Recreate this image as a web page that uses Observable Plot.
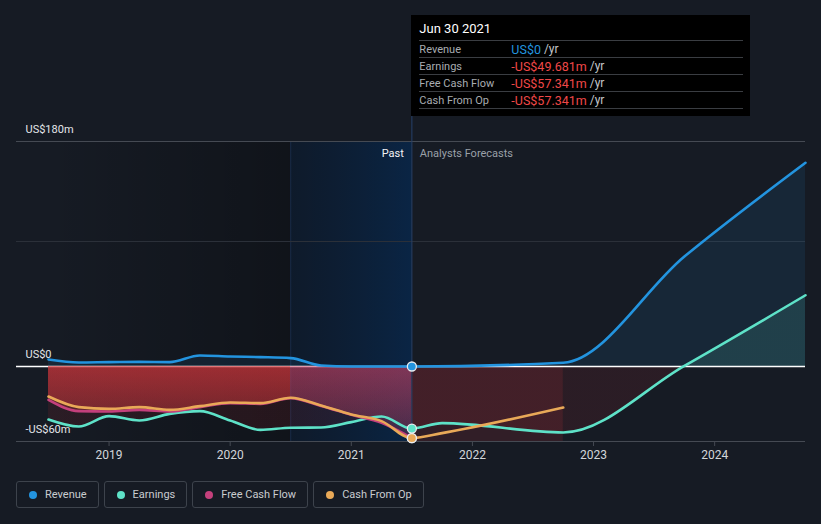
<!DOCTYPE html>
<html>
<head>
<meta charset="utf-8">
<script src="https://cdn.jsdelivr.net/npm/d3@7"></script>
<script src="https://cdn.jsdelivr.net/npm/@observablehq/plot@0.6"></script>
<style>
  html, body { margin: 0; padding: 0; background: #161b24; }
  body { width: 821px; height: 524px; overflow: hidden; font-family: Roboto, "Noto Sans", sans-serif; }
  #wrap { position: relative; width: 821px; height: 470px; }
  #tip { position: absolute; top: 15px; width: 339px; height: 101px; background: #000; box-sizing: border-box; padding: 0 7px 0 8px; color: #fff; }
  #tip .title { height: 25px; display: flex; align-items: center; font-size: 13px; color: #fff; padding-top: 1px; box-sizing: border-box; }
  #tip .row { height: 17px; border-top: 1px solid #3a3d42; box-sizing: border-box; display: flex; align-items: center; font-size: 11px; }
  #tip .end { border-top: 1px solid #3a3d42; }
  #tip .lab { width: 92px; color: #a8acb1; }
  #tip .val { font-size: 12.5px; }
  #tip .unit { color: #c4c7cb; font-size: 12px; }
  #legend { display: flex; padding: 11px 0 0 16px; }
  .item { height: 27px; box-sizing: border-box; border: 1px solid #3d434c; border-radius: 3px; display: flex; align-items: center; padding: 0 11px 0 12px; margin-right: 5px; font-size: 11px; color: #c9ccd0; }
  .dot { width: 8px; height: 8px; border-radius: 50%; margin-right: 8px; }
</style>
</head>
<body>
<div id="wrap"></div>
<div id="legend"></div>
<script>
// ---------- data ----------
const currentDate = 2021.5;
const currentLabel = "Jun 30 2021";
const seriesNames = ["Revenue", "Earnings", "Free Cash Flow", "Cash From Op"];
const seriesColors = ["#2394df", "#5ee2c8", "#c4407c", "#e9a958"];

const pastDates = [2018.5, 2018.75, 2019, 2019.25, 2019.5, 2019.75, 2020, 2020.25, 2020.5, 2020.75, 2021, 2021.25, 2021.5];
const revenuePast  = [5.6, 3.2, 3.5, 3.7, 3.5, 8.8, 8.0, 7.5, 6.7, 0.8, 0, 0, 0];
const earningsPast = [-42.4, -48, -39.7, -43.2, -37.9, -35.7, -43.2, -50.7, -49, -48.8, -44.5, -40, -49.681];
const fcfPast      = [-26.7, -35.7, -36, -34.7, -36, -32.5, -29.3, -29.9, -25.3, -31.5, -38.6, -45, -57.341];
const cfoPast      = [-24, -32.5, -33.9, -32.5, -34.7, -31.7, -28.8, -29.3, -25, -31.2, -38.4, -43.7, -57.341];

const revenueFcDates  = [2022.75, 2023.75, 2024.75];
const revenueFc       = [3, 88, 163];
const earningsFcDates = [2021.75, 2022.75, 2023.75, 2024.75];
const earningsFc      = [-45.3, -52.8, 0.5, 57];
const cfoFcDates      = [2021.75, 2022.75];
const cfoFc           = [-53.3, -32.8];

const xDomain = [2018.5, 2024.75];
const yearTicks = [2019, 2020, 2021, 2022, 2023, 2024];
const yTicks = [-60, 0, 180];
const yTickLabels = ["-US$60m", "US$0", "US$180m"];
const yGrid = [100, 180];

// ---------- build rows ----------
const rows = (dates, vals) => dates.map((t, i) => ({t, v: vals[i]}));
const revPastRows = rows(pastDates, revenuePast);
const earnPastRows = rows(pastDates, earningsPast);
const fcfPastRows = rows(pastDates, fcfPast);
const cfoPastRows = rows(pastDates, cfoPast);
const revenueAll = revPastRows.concat(rows(revenueFcDates, revenueFc));
const earningsAll = earnPastRows.concat(rows(earningsFcDates, earningsFc));
const cfoFcRows = [cfoPastRows[cfoPastRows.length - 1]].concat(rows(cfoFcDates, cfoFc));
const cfoAll = cfoPastRows.concat(rows(cfoFcDates, cfoFc));

const yMin = d3.min(yTicks), yMax = d3.max(yTicks);
const bandStart = currentDate - 1;
const early = arr => arr.filter(d => d.t <= bandStart);
const late = arr => arr.filter(d => d.t >= bandStart);
const curve = "monotone-x";
const lw = 2.6;

const at = (arr) => arr.find(d => d.t === currentDate).v;
const currentVals = [at(revPastRows), at(earnPastRows), at(fcfPastRows), at(cfoPastRows)];

const plot = Plot.plot({
  width: 821,
  height: 470,
  marginLeft: 16,
  marginRight: 16,
  marginTop: 15,
  marginBottom: 29,
  style: {background: "transparent", fontFamily: "Roboto, 'Noto Sans', sans-serif", overflow: "visible"},
  x: {type: "linear", domain: xDomain, range: [48, 805], axis: null},
  y: {type: "linear", domain: [yMin, yMax], range: [441, 141], axis: null},
  marks: [
    // darker past region and last-year band
    Plot.rect([0], {x1: xDomain[0], x2: bandStart, y1: yMin, y2: yMax, fill: "url(#darkGrad)"}),
    Plot.rect([0], {x1: bandStart, x2: currentDate, y1: yMin, y2: yMax, fill: "url(#bandGrad)"}),
    Plot.ruleX([bandStart], {y1: yMin, y2: yMax, stroke: "rgb(40,70,120)", strokeOpacity: 0.4, strokeWidth: 1}),
    // grid
    Plot.ruleY(yGrid, {stroke: d => d === yMax ? "#454a53" : "#2b3039", strokeWidth: 1}),
    Plot.ruleY([yMin], {stroke: "#454a53", strokeWidth: 1}),
    // forecast / all-time areas
    Plot.areaY(revenueAll, {x: "t", y1: 0, y2: "v", curve, fill: seriesColors[0], fillOpacity: 0.1}),
    Plot.areaY(earningsAll, {x: "t", y1: 0, y2: "v", curve, fill: "url(#earnGrad)"}),
    Plot.areaY(cfoFcRows, {x: "t", y1: 0, y2: yMin, fill: "rgb(210,55,60)", fillOpacity: 0.15}),
    // zero line
    Plot.ruleY([0], {stroke: "#ffffff", strokeWidth: 1.5}),
    // past cash areas (red before the last year, purple within it)
    Plot.areaY(early(fcfPastRows), {x: "t", y1: 0, y2: "v", curve, fill: "url(#redGrad)"}),
    Plot.areaY(early(cfoPastRows), {x: "t", y1: 0, y2: "v", curve, fill: "url(#redGrad)"}),
    Plot.areaY(late(fcfPastRows), {x: "t", y1: 0, y2: "v", curve, fill: "url(#purpleGrad)"}),
    Plot.areaY(late(cfoPastRows), {x: "t", y1: 0, y2: "v", curve, fill: "url(#purpleGrad)"}),
    // lines
    Plot.line(revenueAll, {x: "t", y: "v", curve, stroke: seriesColors[0], strokeWidth: lw}),
    Plot.line(earningsAll, {x: "t", y: "v", curve, stroke: seriesColors[1], strokeWidth: lw}),
    Plot.line(fcfPastRows, {x: "t", y: "v", curve, stroke: seriesColors[2], strokeWidth: lw}),
    Plot.line(cfoAll, {x: "t", y: "v", curve, stroke: seriesColors[3], strokeWidth: lw}),
    // cursor
    Plot.ruleX([currentDate], {stroke: "#26406a", strokeWidth: 1}),
    Plot.dot(currentVals.map((v, i) => ({t: currentDate, v, c: seriesColors[i]})), {
      x: "t", y: "v", r: 4.5, fill: "c", stroke: "#e8ecef", strokeWidth: 1.3
    }),
    // labels
    Plot.text(yTicks, {y: d => d, text: (d, i) => yTickLabels[i], frameAnchor: "left", textAnchor: "start", dx: 9, dy: -12, fill: "#e4e6e9", fontSize: 11}),
    Plot.text([currentDate], {x: d => d, y: yMax, text: () => "Past", textAnchor: "end", dx: -8, dy: 12, fill: "#f2f3f5", fontSize: 11}),
    Plot.text([currentDate], {x: d => d, y: yMax, text: () => "Analysts Forecasts", textAnchor: "start", dx: 8, dy: 12, fill: "#9aa0a8", fontSize: 11}),
    Plot.axisX(yearTicks, {tickSize: 5, tickPadding: 4, stroke: "#454a53", fill: "#d3d6da", fontSize: 12, tickFormat: d => String(d), label: null})
  ]
});

// gradients
const xs = plot.scale("x"), ys = plot.scale("y");
const svg = d3.select(plot);
const defs = svg.insert("defs", ":first-child");
function lin(id, x1, y1, x2, y2, stops) {
  const g = defs.append("linearGradient").attr("id", id).attr("gradientUnits", "userSpaceOnUse")
    .attr("x1", x1).attr("y1", y1).attr("x2", x2).attr("y2", y2);
  stops.forEach(([o, c, op]) => g.append("stop").attr("offset", o).attr("stop-color", c).attr("stop-opacity", op));
}
lin("darkGrad", xs.apply(xDomain[0]), 0, xs.apply(bandStart), 0, [[0, "#000", 0], [1, "#000", 0.28]]);
lin("bandGrad", xs.apply(bandStart), 0, xs.apply(currentDate), 0, [[0, "rgb(0,25,55)", 0.35], [1, "rgb(0,45,95)", 0.55]]);
lin("redGrad", 0, ys.apply(0), 0, ys.apply(yMin), [[0, "rgb(210,55,60)", 0.44], [1, "rgb(210,55,60)", 0.14]]);
lin("purpleGrad", 0, ys.apply(0), 0, ys.apply(yMin), [[0, "rgb(205,68,105)", 0.33], [1, "rgb(205,68,105)", 0.1]]);
const z = (ys.apply(0) - ys.apply(yMax)) / (ys.apply(yMin) - ys.apply(yMax));
lin("earnGrad", 0, ys.apply(yMax), 0, ys.apply(yMin), [[0, seriesColors[1], 0.13], [z, seriesColors[1], 0.13], [z, "rgb(210,40,48)", 0.11], [1, "rgb(210,40,48)", 0.11]]);

const wrap = document.getElementById("wrap");
wrap.appendChild(plot);

// tooltip
const fmt = v => v === 0 ? "US$0" : (v < 0 ? "-" : "") + "US$" + Math.abs(v).toFixed(3) + "m";
const tip = document.createElement("div");
tip.id = "tip";
tip.style.left = xs.apply(currentDate) + "px";
let html = `<div class="title">${currentLabel}</div>`;
seriesNames.forEach((n, i) => {
  const v = currentVals[i];
  html += `<div class="row"><span class="lab">${n}</span><span class="val" style="color:${v >= 0 ? seriesColors[0] : "#f04848"}">${fmt(v)}</span><span class="unit">&nbsp;/yr</span></div>`;
});
html += `<div class="end"></div>`;
tip.innerHTML = html;
wrap.appendChild(tip);

// legend
const legend = document.getElementById("legend");
seriesNames.forEach((n, i) => {
  const it = document.createElement("div");
  it.className = "item";
  it.innerHTML = `<span class="dot" style="background:${seriesColors[i]}"></span><span>${n}</span>`;
  legend.appendChild(it);
});
</script>
</body>
</html>
